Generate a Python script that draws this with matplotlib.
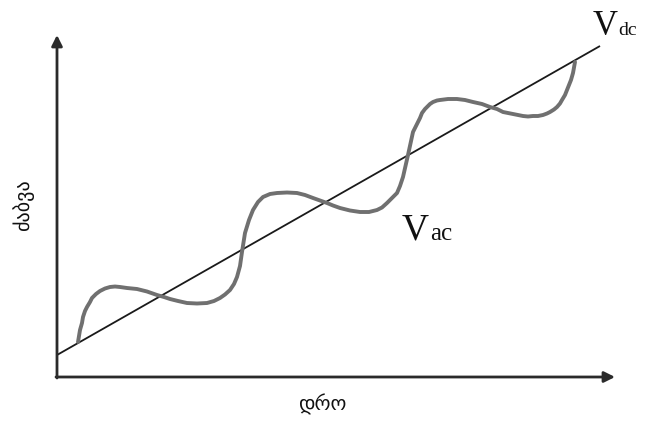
import matplotlib
matplotlib.use("Agg")
import matplotlib.pyplot as plt
import numpy as np

# Axis frame (data units: origin at the axes corner)
x_axis_end = 558
y_axis_end = 342

# Vdc straight line (start, end)
vdc_x = [0, 543]
vdc_y = [22, 331]

# Vac curve points
vac_x = [21, 22, 23, 25, 26, 28, 30, 33, 35, 39, 43, 48, 53, 58, 63, 70, 80, 90, 100, 107, 113, 121, 130, 140, 150, 157, 163, 168, 173, 177, 180,
         183, 185, 188, 192, 196, 201, 206, 213, 220, 230, 240, 248, 256, 263, 270, 276, 283, 293, 303, 312, 320, 325, 330, 333, 336, 338, 340,
         343, 346, 351, 356, 358, 360, 363, 365, 368, 370, 373, 376, 380, 383, 391, 400, 408, 416, 425, 433, 440, 446, 456,
         466, 471, 476, 481, 486, 490, 493, 497, 500, 503, 505, 508, 510, 514, 516, 518]
vac_y = [35, 41, 47, 54, 60, 66, 70, 75, 79, 83, 86, 88.5, 90, 90.5, 90, 89, 88, 85.5, 82, 80, 78, 76, 74, 73.5, 74, 76, 79, 82.5, 87, 93, 100,
         111, 125, 144, 157, 167, 175, 180, 183, 184, 184.5, 184, 182, 179, 176.5, 174, 171.5, 169, 166.5, 165, 165, 167, 169.5, 174, 177, 180, 182, 184,
         191, 200, 222, 245, 249, 253, 259, 264, 268, 270, 273, 275, 276.5, 277, 278, 278, 277, 275, 273, 270, 268, 265, 263,
         261, 260.5, 261, 261, 262, 263.5, 265, 267.5, 270, 273.5, 277, 282, 287, 297, 304, 315]

labels = {"vdc_main": "V", "vdc_sub": "dc", "vac_main": "V", "vac_sub": "ac",
          "ylabel": "ძაბვა", "xlabel": "დრო"}

fig = plt.figure(figsize=(6.48, 4.21), dpi=100)
ax = fig.add_axes([0, 0, 1, 1])
ax.set_xlim(-57, 591)
ax.set_ylim(-44, 377)
ax.axis("off")

axis_col = "#2b2b2b"
ax.annotate("", xy=(0, y_axis_end), xytext=(0, -1),
            arrowprops=dict(arrowstyle="-|>", lw=2.0, color=axis_col,
                            mutation_scale=16, shrinkA=0, shrinkB=0))
ax.annotate("", xy=(x_axis_end, 0), xytext=(-1, 0),
            arrowprops=dict(arrowstyle="-|>", lw=2.0, color=axis_col,
                            mutation_scale=16, shrinkA=0, shrinkB=0))

ax.plot(vdc_x, vdc_y, color="#1a1a1a", lw=1.3, solid_capstyle="butt")
ax.plot(vac_x, vac_y, color="#707070", lw=2.8, solid_joinstyle="round",
        solid_capstyle="round")

serif = "Liberation Serif"
ax.text(536, 342, labels["vdc_main"], family=serif, fontsize=25,
        ha="left", va="baseline", color="#111")
ax.text(561, 342, labels["vdc_sub"], family=serif, fontsize=14,
        ha="left", va="baseline", color="#111")
ax.text(345, 137, labels["vac_main"], family=serif, fontsize=27,
        ha="left", va="baseline", color="#111")
ax.text(373, 137, labels["vac_sub"], family=serif, fontsize=18,
        ha="left", va="baseline", color="#111")

ax.text(-34, 172, labels["ylabel"], family="DejaVu Sans", fontsize=14.5,
        rotation=90, ha="center", va="center", color="#111")
ax.text(265, -27, labels["xlabel"], family="DejaVu Sans", fontsize=14.5,
        ha="center", va="center", color="#111")

fig.savefig("out.png", dpi=100)
